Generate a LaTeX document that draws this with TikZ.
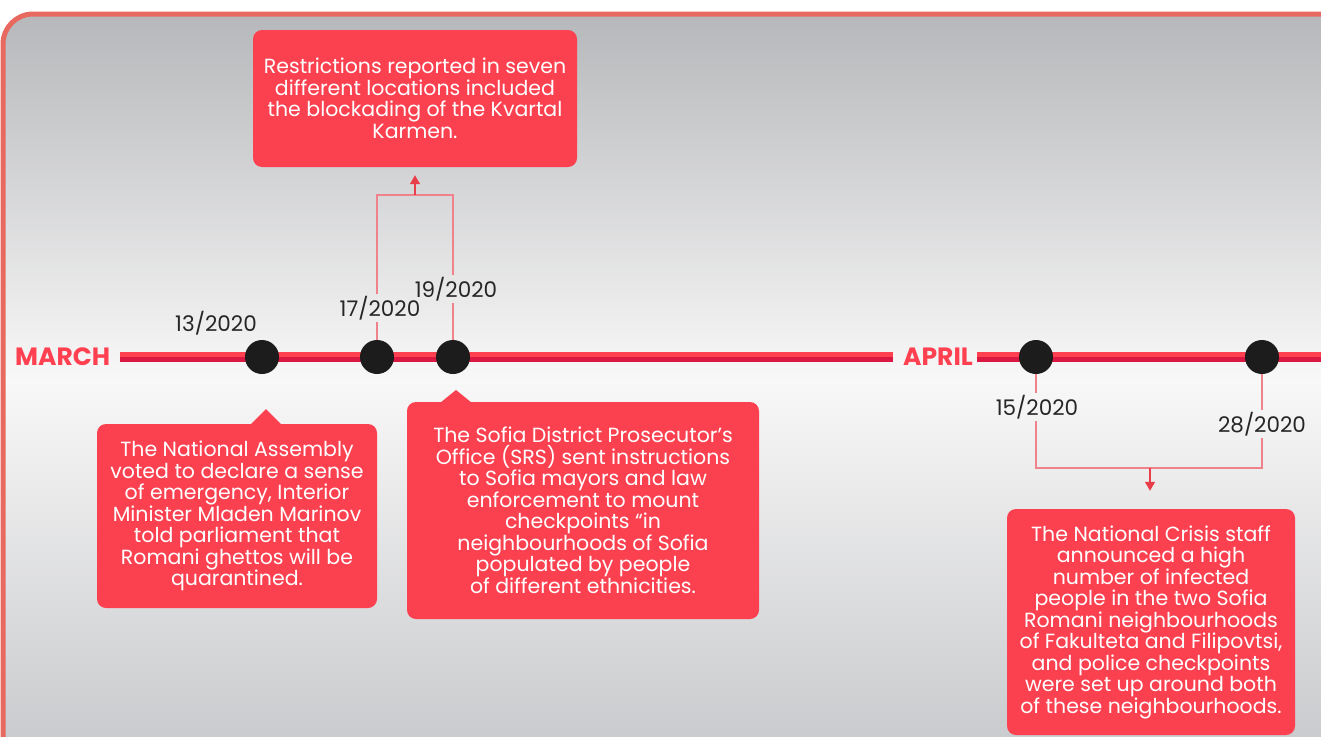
\documentclass[tikz,border=0pt]{standalone}
\usepackage{fontspec}
\setmainfont{Poppins}
\usetikzlibrary{arrows.meta, calc}

\definecolor{boxred}{RGB}{251,65,80}
\definecolor{linelight}{RGB}{255,64,80}
\definecolor{linedark}{RGB}{218,24,66}
\definecolor{linkpink}{RGB}{240,130,140}
\definecolor{arrowred}{RGB}{232,62,74}
\definecolor{frame}{RGB}{232,105,96}
\definecolor{dotgray}{RGB}{28,28,28}
\definecolor{bgtop}{RGB}{180,181,184}
\definecolor{bgmid}{RGB}{248,248,248}
\definecolor{bgbot}{RGB}{198,199,202}

\tikzset{
    evbox/.style={fill=boxred, rounded corners=9pt, text=white, align=center,
        inner sep=0pt, font=\fontsize{20.5}{21.5}\selectfont},
    datelbl/.style={text=black!85, inner sep=2pt, font=\fontsize{21.5}{23}\selectfont},
    monthlbl/.style={text=linelight, inner sep=0pt, font=\bfseries\fontsize{25}{26}\selectfont},
    dot/.style={circle, fill=dotgray, minimum size=34pt, inner sep=0pt},
    link/.style={draw=linkpink, line width=1.5pt},
    linkarrow/.style={draw=arrowred, line width=1.5pt, -{Triangle[length=9pt,width=10pt]}}
}

\begin{document}
\begin{tikzpicture}[x=1pt, y=-1pt]
        \useasboundingbox (0,0) rectangle (1321,736);
        % background
        \begin{scope}
            \clip[rounded corners=30pt] (3,14) rectangle (1350,770);
            \shade[top color=bgtop, bottom color=bgmid] (0,0) rectangle (1350,380);
            \shade[top color=bgmid, bottom color=bgbot] (0,380) rectangle (1350,770);
        \end{scope}
        \draw[frame, line width=5pt, rounded corners=30pt] (3,14) rectangle (1350,770);
        % timeline
        \node[monthlbl, anchor=west] (march) at (15,357) {MARCH};
        \node[monthlbl, anchor=west] (april) at (903,357) {APRIL};
        \coordinate (m0) at (120,357);
        \coordinate (m1) at (893,357);
        \coordinate (a0) at (977,357);
        \coordinate (a1) at (1321,357);
        \draw[linelight, line width=5pt] ($(m0)+(0,-2.5)$) -- ($(m1)+(0,-2.5)$);
        \draw[linedark, line width=5pt] ($(m0)+(0,2.5)$) -- ($(m1)+(0,2.5)$);
        \draw[linelight, line width=5pt] ($(a0)+(0,-2.5)$) -- ($(a1)+(0,-2.5)$);
        \draw[linedark, line width=5pt] ($(a0)+(0,2.5)$) -- ($(a1)+(0,2.5)$);
        \node[dot] (d13) at (262,357) {};
        \node[dot] (d17) at (377,357) {};
        \node[dot] (d19) at (453,357) {};
        \node[dot] (d15) at (1036,357) {};
        \node[dot] (d28) at (1262,357) {};
        % dates
        \node[datelbl] (l13) at (216,323) {13/2020};
        \node[datelbl] (l17) at (380,308) {17/2020};
        \node[datelbl] (l19) at (456,289) {19/2020};
        \node[datelbl] (l15) at (1037,407) {15/2020};
        \node[datelbl] (l28) at (1262,424) {28/2020};
        % event boxes
        \node[evbox, minimum width=324pt, minimum height=137pt] (kvartal) at (415,98.5)
            {Restrictions reported in seven\\different locations included\\the blockading of the Kvartal\\Karmen.};
        \node[evbox, minimum width=280pt, minimum height=184pt] (assembly) at (237,516)
            {The National Assembly\\voted to declare a sense\\of emergency, Interior\\Minister Mladen Marinov\\told parliament that\\Romani ghettos will be\\quarantined.};
        \node[evbox, minimum width=352pt, minimum height=217pt] (prosecutor) at (583,510.5)
            {The Sofia District Prosecutor’s\\Office (SRS) sent instructions\\to Sofia mayors and law\\enforcement to mount\\checkpoints “in\\neighbourhoods of Sofia\\populated by people\\of different ethnicities.};
        \node[evbox, minimum width=288pt, minimum height=226pt] (crisis) at (1151,622)
            {The National Crisis staff\\announced a high\\number of infected\\people in the two Sofia\\Romani neighbourhoods\\of Fakulteta and Filipovtsi,\\and police checkpoints\\were set up around both\\of these neighbourhoods.};
        % bubble tails
        \fill[boxred] (266,409) -- (282,425) -- (250,425) -- cycle;
        \fill[boxred] (456,390) -- (472,403) -- (440,403) -- cycle;
        % links in March
        \coordinate (c17) at (377,195);
        \coordinate (c19) at (453,195);
        \coordinate (cmar) at (415,195);
        \draw[link] (d17) -- (d17 |- l17.south);
        \draw[link] (d17 |- l17.north) -- (c17) -- (c19) -- (d19 |- l19.north);
        \draw[link] (d19 |- l19.south) -- (d19);
        \draw[linkarrow, shorten >=8pt] (cmar) -- (kvartal.south);
        % links in April
        \coordinate (c15) at (1036,468);
        \coordinate (c28) at (1262,468);
        \coordinate (capr) at (1150,468);
        \draw[link] (d15) -- (d15 |- l15.north);
        \draw[link] (d15 |- l15.south) -- (c15) -- (c28) -- (d28 |- l28.south);
        \draw[link] (d28 |- l28.north) -- (d28);
        \draw[linkarrow, shorten >=18pt] (capr) -- (capr |- crisis.north);
    \end{tikzpicture}
\end{document}
